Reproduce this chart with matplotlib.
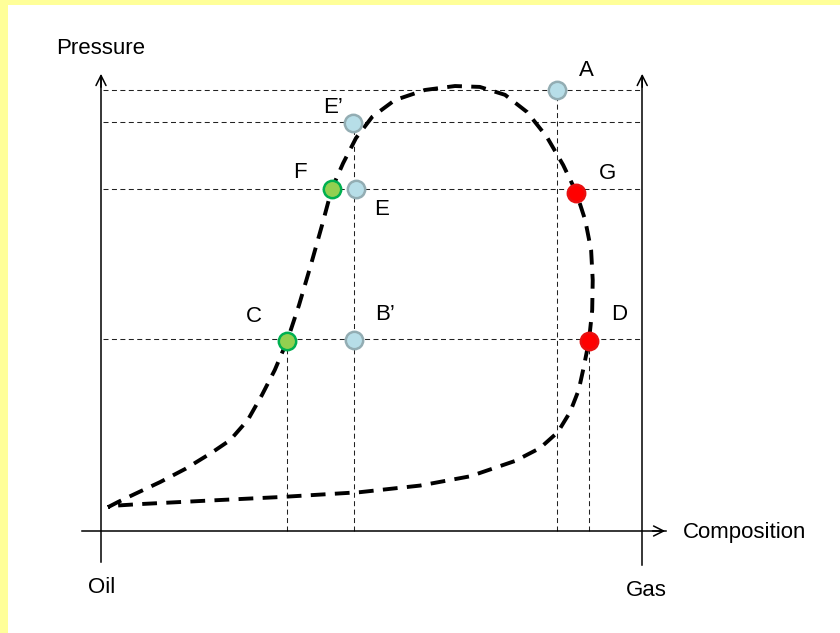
import matplotlib
matplotlib.use("Agg")
import matplotlib.pyplot as plt
from matplotlib.patches import Rectangle

plt.rcParams['font.family'] = ['Liberation Sans', 'DejaVu Sans']

# Phase envelope (composition 0 = oil, 1 = gas; pressure normalised)
env_comp = [0.013, 0.032, 0.063, 0.110, 0.157, 0.205, 0.240, 0.273, 0.299, 0.323,
            0.346, 0.368, 0.390, 0.411, 0.429, 0.450, 0.474, 0.504, 0.546, 0.602,
            0.658, 0.704, 0.751, 0.792, 0.829, 0.859, 0.883, 0.900, 0.911, 0.914,
            0.913, 0.907, 0.897, 0.888, 0.872, 0.849, 0.816, 0.770, 0.686, 0.593,
            0.481, 0.333, 0.184, 0.072, 0.020, 0.013]
env_pres = [0.054, 0.066, 0.084, 0.111, 0.141, 0.177, 0.206, 0.252, 0.308, 0.365,
            0.431, 0.512, 0.603, 0.694, 0.776, 0.834, 0.891, 0.939, 0.977, 1.000,
            1.009, 1.007, 0.989, 0.950, 0.893, 0.830, 0.769, 0.705, 0.637, 0.569,
            0.501, 0.431, 0.370, 0.320, 0.270, 0.224, 0.188, 0.159, 0.124, 0.103,
            0.088, 0.077, 0.068, 0.061, 0.057, 0.054]

# Labelled states
pt_names = ['A', 'E\u2019', 'F', 'E', 'G', 'C', 'B\u2019', 'D']
pt_comp = [0.848, 0.468, 0.429, 0.474, 0.883, 0.346, 0.470, 0.907]
pt_pres = [1.000, 0.925, 0.776, 0.776, 0.766, 0.431, 0.433, 0.431]
pt_kind = ['single', 'single', 'liquid', 'single', 'vapour', 'liquid', 'single', 'vapour']

# Guide levels and guide drops
h_levels = [1.000, 0.927, 0.776, 0.436]
v_drops_comp = [0.346, 0.470, 0.848, 0.907]
v_drops_top = [0.431, 0.925, 1.000, 0.431]

styles = {
    'single': dict(mfc='#b7dee8', mec='#93adb3'),
    'liquid': dict(mfc='#92d050', mec='#00b050'),
    'vapour': dict(mfc='#ff0000', mec='#e81010'),
}
label_offsets = {
    'A': (29, 20), 'E\u2019': (-20, 16), 'F': (-32, 16), 'E': (26, -21),
    'G': (31, 20), 'C': (-33, 24), 'B\u2019': (31, 26), 'D': (30, 26),
}

fig = plt.figure(figsize=(8.4, 6.33), dpi=100, facecolor='#ffff99')
ax = fig.add_axes([0, 0, 1, 1])
ax.patch.set_alpha(0)
ax.set_axis_off()
ax.set_xlim(-101 / 538, 739 / 538)
ax.set_ylim(-102 / 441, 531 / 441)
ax.add_patch(Rectangle((8 / 840, 0), 832 / 840, 628 / 633,
                       transform=fig.transFigure, facecolor='white',
                       edgecolor='none', zorder=0))

# Guide lines
thin = dict(color='#222222', lw=0.75, dashes=(4.8, 3.3))
for lv in h_levels:
    ax.plot([0.004, 1.005], [lv, lv], **thin, zorder=1)
for xc, top in zip(v_drops_comp, v_drops_top):
    ax.plot([xc, xc], [0, top], **thin, zorder=1)

# Axes frame
ax.plot([0, 0], [-0.070, 1.03], color='black', lw=1.1, zorder=2)
ax.plot([1.006, 1.006], [-0.078, 1.03], color='black', lw=1.1, zorder=2)
ax.plot([-0.035, 1.05], [0, 0], color='black', lw=1.1, zorder=2)
arrow = dict(arrowstyle='->', lw=1.1, color='black', mutation_scale=18)
ax.annotate('', xy=(0, 1.043), xytext=(0, 1.0), arrowprops=arrow)
ax.annotate('', xy=(1.006, 1.043), xytext=(1.006, 1.0), arrowprops=arrow)
ax.annotate('', xy=(1.054, 0), xytext=(1.02, 0), arrowprops=arrow)

# Envelope
ax.plot(env_comp, env_pres, color='black', lw=2.8, dashes=(3.8, 2.4),
        solid_capstyle='butt', dash_capstyle='butt', solid_joinstyle='round',
        zorder=3)

# States
for name, xc, yc, kind in zip(pt_names, pt_comp, pt_pres, pt_kind):
    ax.plot(xc, yc, 'o', ms=12.5, mew=1.8, zorder=4, **styles[kind])
    ax.annotate(name, (xc, yc), xytext=label_offsets[name],
                textcoords='offset pixels', ha='center', va='center',
                fontsize=16)

# Axis captions
fs = 16
ax.text(0, 1.095, 'Pressure', ha='center', va='center', fontsize=fs)
ax.text(1.082, -0.004, 'Composition', ha='left', va='center', fontsize=fs)
ax.text(-0.024, -0.129, 'Oil', ha='left', va='center', fontsize=fs)
ax.text(1.014, -0.134, 'Gas', ha='center', va='center', fontsize=fs)

fig.savefig('out.png', dpi=100, facecolor=fig.get_facecolor())
